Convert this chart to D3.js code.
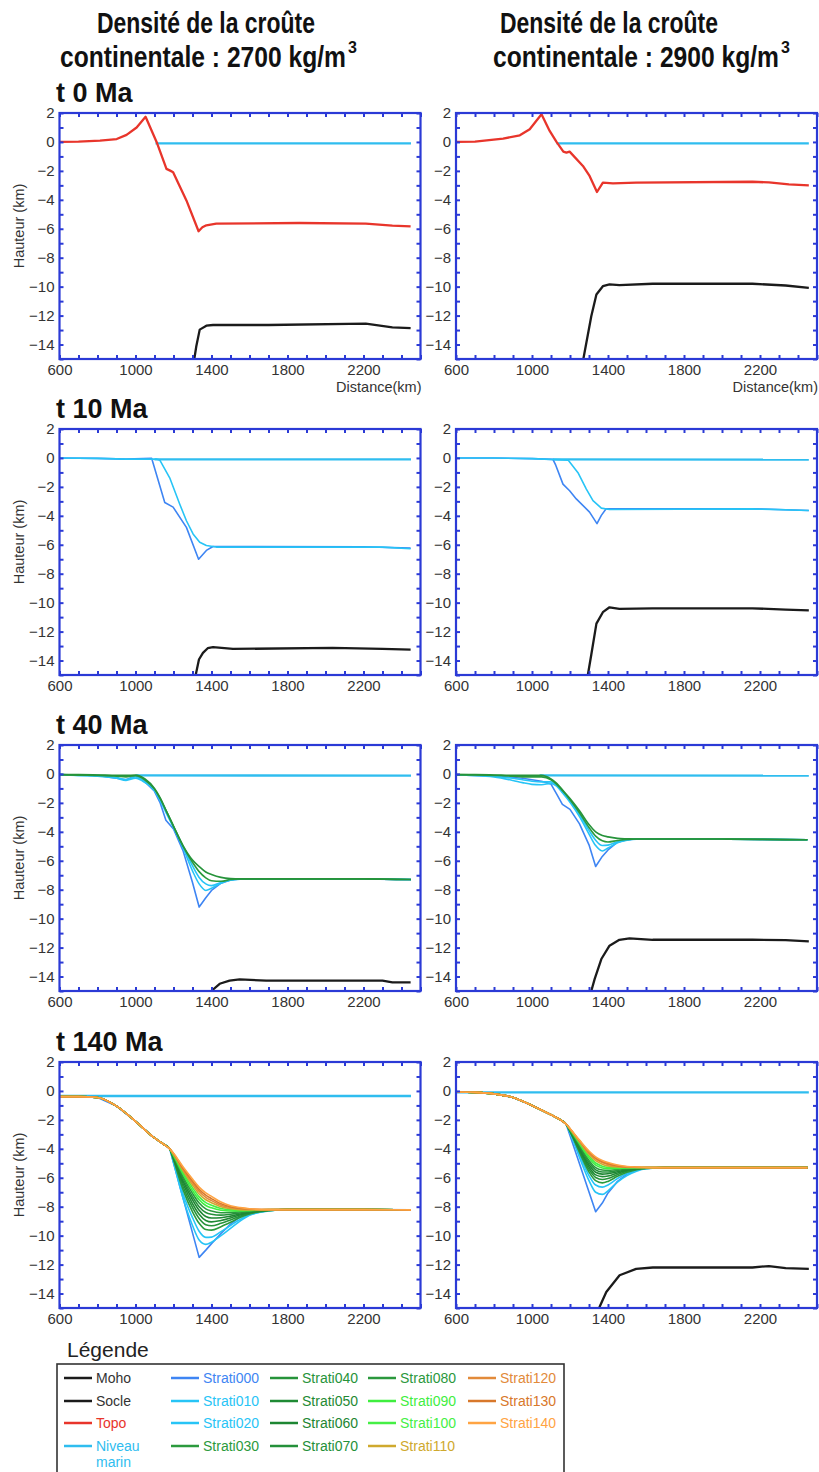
<!DOCTYPE html>
<html><head><meta charset="utf-8">
<script src="https://cdn.jsdelivr.net/npm/d3@7"></script>
<style>body{margin:0;background:#fff}svg{display:block}</style>
</head><body>
<script>
// ---------------- DATA ----------------
const titles = [["Densité de la croûte", "continentale : 2700 kg/m", "3"], ["Densité de la croûte", "continentale : 2900 kg/m", "3"]];
const timeLabels = ["t 0 Ma", "t 10 Ma", "t 40 Ma", "t 140 Ma"];
const yTickLabels = [2, 0, -2, -4, -6, -8, -10, -12, -14];
const xTickLabels = [600, 1000, 1400, 1800, 2200];
const xAxisTitle = "Distance(km)";
const yAxisTitle = "Hauteur (km)";

// t 0 Ma
const seaT0L = [[1105, -0.1], [2450, -0.1]];
const topoT0L = [[600, 0], [700, 0.02], [813, 0.09], [901, 0.2], [953, 0.49], [1006, 1.0], [1053, 1.74], [1111, 0], [1163, -1.86], [1185, -2.0], [1198, -2.09], [1268, -4.04], [1332, -6.17], [1352, -5.9], [1373, -5.76], [1425, -5.64], [1862, -5.6], [2212, -5.64], [2352, -5.78], [2448, -5.83]];
const mohoT0L = [[1306, -15.3], [1320, -14.12], [1338, -12.97], [1373, -12.7], [1408, -12.65], [1700, -12.65], [2212, -12.55], [2352, -12.81], [2448, -12.86]];
const seaT0R = [[1129, -0.1], [2457, -0.1]];
const topoT0R = [[600, 0], [700, 0.02], [848, 0.23], [936, 0.46], [988, 0.88], [1050, 1.91], [1093, 0.76], [1129, 0], [1165, -0.67], [1181, -0.74], [1198, -0.67], [1268, -1.66], [1303, -2.35], [1342, -3.46], [1373, -2.81], [1426, -2.86], [1548, -2.81], [2160, -2.75], [2247, -2.8], [2352, -2.93], [2457, -3.0]];
const mohoT0R = [[1266, -15.3], [1312, -12.04], [1339, -10.54], [1373, -9.97], [1408, -9.85], [1460, -9.9], [1635, -9.8], [2160, -9.8], [2335, -9.92], [2457, -10.08]];

// t 10 Ma
const seaT10L = [[1100, -0.1], [2450, -0.1]];
const s000T10L = [[600, 0], [800, -0.03], [950, -0.08], [1085, -0.02], [1154, -3.08], [1198, -3.4], [1268, -4.8], [1332, -7.0], [1373, -6.39], [1408, -6.12], [1600, -6.12], [2200, -6.14], [2448, -6.23]];
const s010T10L = [[600, 0], [800, -0.03], [950, -0.08], [1110, -0.08], [1128, -0.15], [1180, -1.37], [1233, -3.2], [1268, -4.34], [1303, -5.25], [1338, -5.82], [1373, -6.05], [1425, -6.16], [2037, -6.16], [2300, -6.16], [2448, -6.28]];
const mohoT10L = [[1312, -15.3], [1334, -13.93], [1355, -13.47], [1380, -13.15], [1408, -13.08], [1513, -13.2], [2037, -13.13], [2300, -13.2], [2448, -13.24]];
const seaT10R = [[1110, -0.1], [2457, -0.12]];
const s000T10R = [[600, 0], [800, 0], [1000, -0.05], [1110, -0.1], [1125, -0.5], [1163, -1.81], [1198, -2.27], [1233, -2.83], [1303, -3.74], [1342, -4.54], [1365, -3.97], [1390, -3.51], [1460, -3.51], [2160, -3.51], [2457, -3.63]];
const s010T10R = [[600, 0], [800, 0], [1000, -0.05], [1190, -0.15], [1242, -1.02], [1286, -2.15], [1321, -2.95], [1365, -3.47], [1408, -3.56], [2160, -3.52], [2457, -3.63]];
const mohoT10R = [[1290, -15.3], [1312, -13.6], [1339, -11.45], [1373, -10.66], [1408, -10.32], [1460, -10.43], [1635, -10.39], [2160, -10.39], [2335, -10.48], [2457, -10.54]];

// t 40 Ma (shared distance grid)
const x40 = [600, 700, 800, 900, 950, 1000, 1050, 1100, 1130, 1160, 1200, 1250, 1300, 1335, 1370, 1400, 1450, 1500, 1550, 1600, 1800, 2000, 2200, 2450];
const s000T40L = [-0.05, -0.07, -0.1, -0.3, -0.4, -0.15, -0.55, -1.2, -2.0, -3.2, -3.8, -5.3, -7.5, -9.2, -8.55, -8.05, -7.55, -7.33, -7.26, -7.25, -7.25, -7.25, -7.25, -7.3];
const s010T40L = [-0.05, -0.1, -0.15, -0.3, -0.45, -0.3, -0.6, -1.15, -1.85, -2.65, -3.7, -5.1, -6.7, -7.6, -8.05, -7.9, -7.55, -7.35, -7.27, -7.25, -7.25, -7.25, -7.25, -7.3];
const s020T40L = [-0.05, -0.1, -0.12, -0.25, -0.38, -0.2, -0.5, -1.1, -1.75, -2.55, -3.65, -5.0, -6.35, -7.15, -7.6, -7.72, -7.5, -7.32, -7.26, -7.25, -7.25, -7.25, -7.25, -7.3];
const s030T40L = [-0.05, -0.08, -0.1, -0.15, -0.2, -0.12, -0.42, -1.05, -1.7, -2.5, -3.62, -4.98, -6.1, -6.75, -7.18, -7.38, -7.42, -7.3, -7.26, -7.25, -7.25, -7.25, -7.25, -7.3];
const s040T40L = [-0.05, -0.05, -0.07, -0.1, -0.1, -0.08, -0.35, -1.0, -1.65, -2.5, -3.6, -4.95, -5.95, -6.4, -6.78, -6.95, -7.15, -7.23, -7.25, -7.25, -7.25, -7.25, -7.25, -7.3];
const seaT40L = [[1000, -0.1], [2450, -0.12]];
const mohoT40L = [[1390, -15.3], [1399, -15], [1443, -14.5], [1495, -14.28], [1548, -14.2], [1688, -14.28], [2037, -14.28], [2300, -14.28], [2352, -14.4], [2448, -14.4]];
const s000T40R = [-0.07, -0.1, -0.15, -0.25, -0.3, -0.4, -0.5, -0.7, -1.4, -2.1, -2.45, -3.45, -4.9, -6.4, -5.7, -5.25, -4.72, -4.55, -4.5, -4.5, -4.5, -4.5, -4.52, -4.55];
const s010T40R = [-0.07, -0.1, -0.2, -0.45, -0.6, -0.72, -0.75, -0.65, -0.85, -1.3, -1.95, -2.95, -4.15, -4.95, -5.32, -5.12, -4.75, -4.58, -4.51, -4.5, -4.5, -4.5, -4.52, -4.55];
const s020T40R = [-0.07, -0.1, -0.15, -0.3, -0.4, -0.5, -0.55, -0.55, -0.8, -1.2, -1.85, -2.8, -3.9, -4.58, -4.95, -4.92, -4.68, -4.55, -4.5, -4.5, -4.5, -4.5, -4.52, -4.55];
const s030T40R = [-0.05, -0.07, -0.1, -0.15, -0.2, -0.2, -0.2, -0.4, -0.72, -1.15, -1.78, -2.68, -3.7, -4.3, -4.62, -4.7, -4.6, -4.52, -4.5, -4.5, -4.5, -4.5, -4.52, -4.55];
const s040T40R = [-0.05, -0.05, -0.07, -0.1, -0.1, -0.1, -0.1, -0.35, -0.65, -1.1, -1.7, -2.55, -3.5, -4.0, -4.25, -4.35, -4.45, -4.48, -4.5, -4.5, -4.5, -4.5, -4.52, -4.55];
const seaT40R = [[1040, -0.1], [2457, -0.12]];
const mohoT40R = [[1305, -15.3], [1312, -15], [1330, -14.16], [1365, -12.79], [1408, -11.87], [1460, -11.46], [1513, -11.37], [1635, -11.46], [2160, -11.46], [2335, -11.48], [2457, -11.57]];

// t 140 Ma: shelf grid shared by every horizon, then basin grid
const x140Shelf = [600, 700, 800, 900, 1000, 1100, 1150];
const x140Basin = [1180, 1200, 1250, 1300, 1335, 1370, 1400, 1450, 1500, 1550, 1600, 1700, 1800, 2000, 2200, 2450];
const shelfT140L = [-0.39, -0.39, -0.45, -1.05, -2.1, -3.25, -3.7];
const shelfT140R = [-0.07, -0.1, -0.2, -0.45, -1.0, -1.65, -2.0];
const basinT140L = {
  Strati000: [-4.0, -4.97, -7.39, -9.81, -11.5, -11.0, -10.55, -9.85, -9.2, -8.7, -8.4, -8.22, -8.2, -8.2, -8.2, -8.22],
  Strati010: [-4.0, -4.95, -7.4, -9.3, -10.3, -10.6, -10.45, -10.0, -9.5, -9.0, -8.6, -8.3, -8.2, -8.2, -8.2, -8.22],
  Strati020: [-4.0, -4.85, -7.1, -8.75, -9.7, -10.12, -10.1, -9.72, -9.3, -8.88, -8.56, -8.28, -8.2, -8.2, -8.2, -8.22],
  Strati030: [-4.0, -4.76, -6.82, -8.35, -9.15, -9.58, -9.62, -9.38, -9.08, -8.75, -8.5, -8.27, -8.2, -8.2, -8.2, -8.22],
  Strati040: [-4.0, -4.7, -6.6, -8.05, -8.82, -9.25, -9.32, -9.15, -8.92, -8.66, -8.46, -8.26, -8.2, -8.2, -8.2, -8.22],
  Strati050: [-4.0, -4.65, -6.4, -7.78, -8.52, -8.95, -9.05, -8.95, -8.78, -8.58, -8.42, -8.25, -8.2, -8.2, -8.2, -8.22],
  Strati060: [-4.0, -4.6, -6.22, -7.52, -8.25, -8.68, -8.78, -8.76, -8.65, -8.5, -8.38, -8.24, -8.2, -8.2, -8.2, -8.22],
  Strati070: [-4.0, -4.55, -6.05, -7.3, -8.0, -8.4, -8.52, -8.58, -8.52, -8.43, -8.34, -8.23, -8.2, -8.2, -8.2, -8.22],
  Strati080: [-4.0, -4.5, -5.9, -7.08, -7.75, -8.15, -8.3, -8.42, -8.4, -8.36, -8.3, -8.22, -8.2, -8.2, -8.2, -8.22],
  Strati090: [-4.0, -4.46, -5.75, -6.88, -7.52, -7.92, -8.08, -8.25, -8.3, -8.3, -8.27, -8.21, -8.2, -8.2, -8.2, -8.22],
  Strati100: [-4.0, -4.42, -5.62, -6.68, -7.32, -7.72, -7.9, -8.12, -8.22, -8.25, -8.24, -8.2, -8.2, -8.2, -8.2, -8.22],
  Strati110: [-4.0, -4.38, -5.5, -6.5, -7.12, -7.52, -7.72, -8.0, -8.13, -8.2, -8.22, -8.2, -8.2, -8.2, -8.2, -8.22],
  Strati120: [-4.0, -4.35, -5.4, -6.35, -6.95, -7.35, -7.58, -7.9, -8.06, -8.14, -8.18, -8.2, -8.2, -8.2, -8.2, -8.22],
  Strati130: [-4.0, -4.32, -5.32, -6.22, -6.8, -7.2, -7.44, -7.8, -8.0, -8.1, -8.16, -8.2, -8.2, -8.2, -8.2, -8.22],
  Strati140: [-4.0, -4.3, -5.24, -6.09, -6.65, -7.05, -7.29, -7.68, -7.93, -8.06, -8.14, -8.2, -8.2, -8.2, -8.2, -8.22]
};
const basinT140R = {
  Strati000: [-2.3, -3.08, -5.03, -6.98, -8.35, -7.75, -7.05, -6.25, -5.75, -5.45, -5.36, -5.3, -5.3, -5.3, -5.3, -5.3],
  Strati010: [-2.3, -2.9, -4.6, -6.2, -7.0, -7.15, -6.9, -6.3, -5.85, -5.55, -5.38, -5.3, -5.3, -5.3, -5.3, -5.3],
  Strati020: [-2.3, -2.85, -4.4, -5.85, -6.5, -6.65, -6.5, -6.05, -5.7, -5.48, -5.36, -5.3, -5.3, -5.3, -5.3, -5.3],
  Strati030: [-2.3, -2.8, -4.25, -5.6, -6.2, -6.35, -6.25, -5.9, -5.62, -5.44, -5.35, -5.3, -5.3, -5.3, -5.3, -5.3],
  Strati040: [-2.3, -2.78, -4.15, -5.42, -5.98, -6.12, -6.05, -5.78, -5.55, -5.41, -5.34, -5.3, -5.3, -5.3, -5.3, -5.3],
  Strati050: [-2.3, -2.75, -4.05, -5.26, -5.8, -5.92, -5.88, -5.67, -5.49, -5.38, -5.33, -5.3, -5.3, -5.3, -5.3, -5.3],
  Strati060: [-2.3, -2.72, -3.95, -5.1, -5.62, -5.75, -5.72, -5.58, -5.44, -5.36, -5.32, -5.3, -5.3, -5.3, -5.3, -5.3],
  Strati070: [-2.3, -2.7, -3.85, -4.95, -5.45, -5.6, -5.6, -5.5, -5.4, -5.34, -5.31, -5.3, -5.3, -5.3, -5.3, -5.3],
  Strati080: [-2.3, -2.68, -3.75, -4.8, -5.3, -5.46, -5.48, -5.42, -5.36, -5.32, -5.3, -5.3, -5.3, -5.3, -5.3, -5.3],
  Strati090: [-2.3, -2.66, -3.66, -4.64, -5.13, -5.32, -5.37, -5.36, -5.33, -5.31, -5.3, -5.3, -5.3, -5.3, -5.3, -5.3],
  Strati100: [-2.3, -2.64, -3.58, -4.5, -4.98, -5.2, -5.28, -5.31, -5.31, -5.3, -5.3, -5.3, -5.3, -5.3, -5.3, -5.3],
  Strati110: [-2.3, -2.63, -3.52, -4.38, -4.82, -5.06, -5.18, -5.26, -5.28, -5.29, -5.3, -5.3, -5.3, -5.3, -5.3, -5.3],
  Strati120: [-2.3, -2.62, -3.47, -4.28, -4.7, -4.95, -5.08, -5.2, -5.26, -5.28, -5.29, -5.3, -5.3, -5.3, -5.3, -5.3],
  Strati130: [-2.3, -2.61, -3.43, -4.2, -4.62, -4.87, -5.01, -5.16, -5.24, -5.27, -5.29, -5.3, -5.3, -5.3, -5.3, -5.3],
  Strati140: [-2.3, -2.6, -3.4, -4.15, -4.55, -4.8, -4.95, -5.12, -5.22, -5.26, -5.28, -5.3, -5.3, -5.3, -5.3, -5.3]
};
const seaT140L = [[600, -0.35], [2450, -0.35]];
const seaT140R = [[600, -0.1], [2457, -0.1]];
const mohoT140R = [[1350, -15.3], [1356, -14.92], [1391, -13.9], [1461, -12.74], [1548, -12.3], [1636, -12.2], [1811, -12.2], [2160, -12.2], [2247, -12.1], [2335, -12.25], [2457, -12.3]];

// legend
const legendTitle = "Légende";
const legendColumns = [
  ["Moho", "Socle", "Topo", "Niveau marin"],
  ["Strati000", "Strati010", "Strati020", "Strati030"],
  ["Strati040", "Strati050", "Strati060", "Strati070"],
  ["Strati080", "Strati090", "Strati100", "Strati110"],
  ["Strati120", "Strati130", "Strati140"]
];

// ---------------- STYLE ----------------
const colors = {
  "Moho": "#1b1b1b", "Socle": "#1b1b1b", "Topo": "#e8352b", "Niveau marin": "#2fbdef",
  "Strati000": "#3e85f3", "Strati010": "#27c4f6", "Strati020": "#27c4f6",
  "Strati030": "#2b9a3d", "Strati040": "#26933a", "Strati050": "#1f8a34", "Strati060": "#1d8632",
  "Strati070": "#24903a", "Strati080": "#2b983d", "Strati090": "#3fee3f", "Strati100": "#45ef45",
  "Strati110": "#cfa92e", "Strati120": "#e28a3a", "Strati130": "#d8782b", "Strati140": "#ffa443"
};
const stratiNames = Object.keys(basinT140L);
const zip = (xs, ys) => xs.map((v, i) => [v, ys[i]]);

const panels = [
  {row: 0, col: 0, series: [["Niveau marin", seaT0L], ["Moho", mohoT0L], ["Topo", topoT0L]]},
  {row: 0, col: 1, series: [["Niveau marin", seaT0R], ["Moho", mohoT0R], ["Topo", topoT0R]]},
  {row: 1, col: 0, series: [["Moho", mohoT10L], ["Niveau marin", seaT10L], ["Strati000", s000T10L], ["Strati010", s010T10L]]},
  {row: 1, col: 1, series: [["Moho", mohoT10R], ["Niveau marin", seaT10R], ["Strati000", s000T10R], ["Strati010", s010T10R]]},
  {row: 2, col: 0, smooth: true, series: [["Moho", mohoT40L], ["Niveau marin", seaT40L],
    ["Strati000", zip(x40, s000T40L)], ["Strati010", zip(x40, s010T40L)], ["Strati020", zip(x40, s020T40L)],
    ["Strati030", zip(x40, s030T40L)], ["Strati040", zip(x40, s040T40L)]]},
  {row: 2, col: 1, smooth: true, series: [["Moho", mohoT40R], ["Niveau marin", seaT40R],
    ["Strati000", zip(x40, s000T40R)], ["Strati010", zip(x40, s010T40R)], ["Strati020", zip(x40, s020T40R)],
    ["Strati030", zip(x40, s030T40R)], ["Strati040", zip(x40, s040T40R)]]},
  {row: 3, col: 0, smooth: true, series: [["Niveau marin", seaT140L]].concat(
    stratiNames.map(n => [n, zip(x140Shelf.concat(x140Basin), shelfT140L.concat(basinT140L[n]))]))},
  {row: 3, col: 1, smooth: true, series: [["Moho", mohoT140R], ["Niveau marin", seaT140R]].concat(
    stratiNames.map(n => [n, zip(x140Shelf.concat(x140Basin), shelfT140R.concat(basinT140R[n]))]))}
];

// ---------------- LAYOUT ----------------
const W = 819, H = 1472;
const colX = [59.5, 456], panelW = 361, rowY = [113, 429, 745, 1062], panelH = 246;
const frameBlue = "#2b3ad6";
const fontSans = "'Liberation Sans', Arial, sans-serif";

const svg = d3.select("body").append("svg").attr("width", W).attr("height", H)
  .style("font-family", fontSans);

const x = d3.scaleLinear().domain([600, 2500]).range([0, panelW]);
const y = d3.scaleLinear().domain([-15, 2]).range([panelH, 0]);

// titles: bold text squeezed horizontally (condensed look) with a scale transform
const titleLayout = [{c1: 206, c2: 203}, {c1: 609, c2: 636}];
const line1Len = 218, line2Len = 286;
function squeezed(g, str, cx, by, size, targetLen) {
  const t = g.append("text").attr("font-size", size).attr("text-anchor", "middle").text(str);
  const natural = t.node().getComputedTextLength();
  const s = Math.min(1, targetLen / natural);
  t.attr("transform", `translate(${cx},${by}) scale(${s},1)`);
  return t;
}
titles.forEach((t, i) => {
  const g = svg.append("g").attr("font-family", fontSans)
    .attr("font-weight", "bold").attr("fill", "#111");
  squeezed(g, t[0], titleLayout[i].c1, 33, 30, line1Len);
  squeezed(g, t[1], titleLayout[i].c2, 67, 30, line2Len);
  g.append("text").attr("x", titleLayout[i].c2 + line2Len / 2 + 2).attr("y", 53)
    .attr("font-size", 16).text(t[2]);
});

// time labels
timeLabels.forEach((t, r) => {
  svg.append("text").attr("x", 56).attr("y", rowY[r] - 11)
    .attr("font-weight", "bold").attr("font-size", 27).attr("fill", "#111").text(t);
});

panels.forEach((p, idx) => {
  const g = svg.append("g").attr("transform", `translate(${colX[p.col]},${rowY[p.row]})`);
  const clipId = "clip" + idx;
  g.append("clipPath").attr("id", clipId).append("rect")
    .attr("x", 0).attr("y", 0).attr("width", panelW).attr("height", panelH);

  const plot = g.append("g").attr("clip-path", `url(#${clipId})`);
  p.series.forEach(([name, pts]) => {
    const smooth = p.smooth && name !== "Strati000" && name !== "Moho";
    const line = d3.line().x(d => x(d[0])).y(d => y(d[1]))
      .curve(smooth ? d3.curveMonotoneX : d3.curveLinear);
    const w = (name === "Topo" || name === "Moho" || name === "Niveau marin") ? 2.3 : 1.6;
    plot.append("path").datum(pts).attr("d", line).attr("fill", "none")
      .attr("stroke", colors[name]).attr("stroke-width", w).attr("stroke-linejoin", "round");
  });

  // inward minor ticks on all sides
  const xt = d3.range(600, 2501, 100), yt = d3.range(-15, 2.01, 1);
  const tickStyle = sel => { sel.select(".domain").remove(); sel.selectAll("line").attr("stroke", frameBlue).attr("stroke-width", 2); };
  g.append("g").attr("transform", `translate(0,${panelH})`).call(d3.axisBottom(x).tickValues(xt).tickSize(-4).tickFormat("")).call(tickStyle);
  g.append("g").call(d3.axisTop(x).tickValues(xt).tickSize(-4).tickFormat("")).call(tickStyle);
  g.append("g").call(d3.axisLeft(y).tickValues(yt).tickSize(-4).tickFormat("")).call(tickStyle);
  g.append("g").attr("transform", `translate(${panelW},0)`).call(d3.axisRight(y).tickValues(yt).tickSize(-4).tickFormat("")).call(tickStyle);

  g.append("rect").attr("width", panelW).attr("height", panelH)
    .attr("fill", "none").attr("stroke", frameBlue).attr("stroke-width", 2.2);

  // labels
  const lab = sel => { sel.select(".domain").remove(); sel.selectAll("line").remove();
    sel.selectAll("text").attr("font-size", 15).attr("fill", "#333").attr("font-family", fontSans); };
  g.append("g").call(d3.axisLeft(y).tickValues(yTickLabels).tickSize(0).tickPadding(5).tickFormat(d3.format("d"))).call(lab);
  g.append("g").attr("transform", `translate(0,${panelH})`)
    .call(d3.axisBottom(x).tickValues(xTickLabels).tickSize(0).tickPadding(5).tickFormat(d3.format("d"))).call(lab);

  if (p.row === 0) {
    g.append("text").attr("x", panelW + 1).attr("y", panelH + 33).attr("text-anchor", "end")
      .attr("font-size", 14.5).attr("fill", "#333").text(xAxisTitle);
  }
  if (p.col === 0) {
    g.append("text").attr("transform", `translate(${-36},${panelH / 2 - 10}) rotate(-90)`)
      .attr("text-anchor", "middle").attr("font-size", 14.5).attr("fill", "#333").text(yAxisTitle);
  }
});

// legend
const legX = 57, legY = 1364;
svg.append("text").attr("x", 67).attr("y", 1357).attr("font-size", 21).attr("fill", "#222").text(legendTitle);
svg.append("rect").attr("x", legX).attr("y", legY).attr("width", 507).attr("height", 140)
  .attr("fill", "none").attr("stroke", "#333").attr("stroke-width", 1.6);
const colOffsets = [64, 171, 270, 368, 468];
const rowBase = [1378, 1401, 1423, 1446];
legendColumns.forEach((col, ci) => {
  col.forEach((name, ri) => {
    const cy = rowBase[ri];
    svg.append("line").attr("x1", colOffsets[ci]).attr("x2", colOffsets[ci] + 28)
      .attr("y1", cy).attr("y2", cy).attr("stroke", colors[name]).attr("stroke-width", 2.5);
    const tc = (name === "Moho" || name === "Socle") ? "#333" : colors[name];
    const parts = name === "Niveau marin" ? ["Niveau", "marin"] : [name];
    parts.forEach((pt, k) => {
      svg.append("text").attr("x", colOffsets[ci] + 32).attr("y", cy + 5 + k * 16)
        .attr("font-size", 14).attr("fill", tc).text(pt);
    });
  });
});
</script>
</body></html>
